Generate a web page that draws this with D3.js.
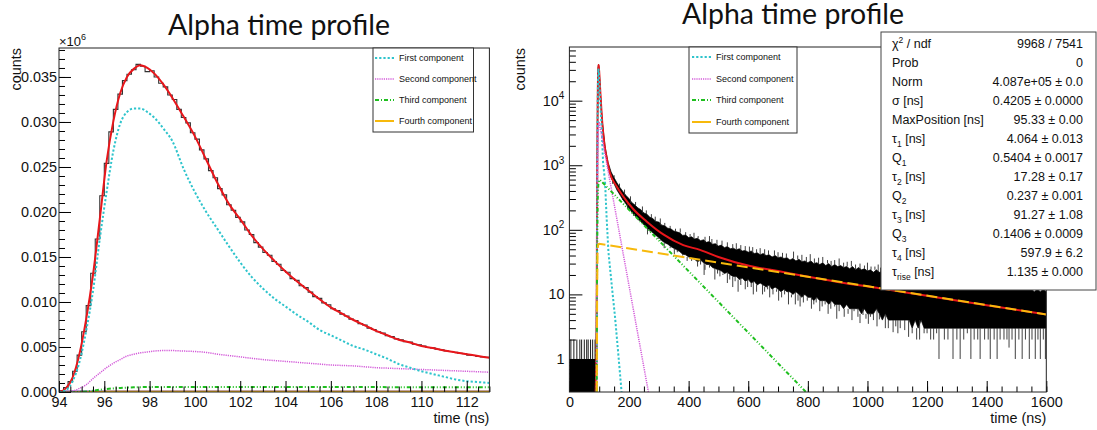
<!DOCTYPE html>
<html><head><meta charset="utf-8">
<script src="https://cdn.jsdelivr.net/npm/d3@7/dist/d3.min.js"></script>
<style>
html,body{margin:0;padding:0;background:#fff;}
svg{display:block;}
text{font-family:"Liberation Sans",Arial,Helvetica,sans-serif;fill:#111;}
</style></head>
<body>
<svg id="chart" width="1097" height="430"></svg>
<script>
// ================= DATA =================
const titleText = "Alpha time profile";
const xTitle = "time (ns)";
const yTitle = "counts";
const componentNames = ["First component", "Second component", "Third component", "Fourth component"];

// ---- left panel: linear zoom on the peak ----
const leftXRange = [94, 113];
const leftYRange = [0, 38220];
const leftXTicks = [94, 96, 98, 100, 102, 104, 106, 108, 110, 112];
const leftYTicks = [0, 5000, 10000, 15000, 20000, 25000, 30000, 35000];
const leftYExponent = "6";
const leftBinStart = 94.0;
const leftBinWidth = 0.2;
const leftCounts = [150,500,1150,2300,4100,6700,9600,13200,17000,21800,25400,28900,31400,33100,34600,35300,35800,36400,36200,35600,
  35700,35000,34300,33900,33000,32500,31400,30500,29900,28800,28100,26900,25900,24600,23800,22600,21900,20800,20200,19400,
  18900,18000,17500,16600,16100,15500,15200,14500,14200,13500,13300,12600,12400,11800,11600,11100,10600,10400,9900,9700,
  9250,9050,8650,8450,8100,7950,7600,7450,7100,6950,6700,6550,6250,6150,5900,5800,5600,5550,5300,5250,
  5100,4950,4900,4750,4700,4550,4500,4400,4300,4250,4100,4050,3950,3900,3850];
const leftFitT = [94.0,94.3,94.6,94.9,95.2,95.5,95.8,96.1,96.4,96.7,97.0,97.3,97.6,97.9,98.2,98.6,99.0,99.5,100,100.5,
  101,101.5,102,102.5,103,103.5,104,104.5,105,105.5,106,106.5,107,107.5,108,108.5,109,109.5,110,110.5,111,111.5,112,112.5,113];
const leftTotal = [0,400,1600,4200,8100,13000,19200,25600,30100,33200,35000,35900,36300,36000,35400,34200,32700,30600,28400,25800,
  23200,20900,19200,17400,15900,14600,13400,12300,11300,10300,9400,8700,8000,7400,6800,6300,5800,5500,5100,4900,4600,4400,4200,4000,3800];
const leftFirst = [0,200,1200,3300,6800,11200,17000,22200,26800,29800,31100,31500,31500,31100,30500,29300,27900,24800,22200,20000,
  18100,16200,14400,12800,11500,10400,9500,8600,7800,6900,6300,5700,5100,4700,4200,3700,3100,2700,2300,2000,1700,1400,1200,1100,1000];
const leftSecond = [0,0,100,400,800,1500,2100,2700,3200,3600,4000,4200,4350,4450,4550,4600,4600,4550,4500,4400,
  4200,4050,3900,3750,3600,3500,3400,3300,3200,3100,3000,2950,2900,2800,2700,2650,2600,2550,2500,2450,2400,2350,2300,2250,2200];
const leftThird = [0,0,0,20,60,150,250,330,400,450,490,520,540,550,555,560,560,565,565,565,
  565,565,560,560,560,560,555,555,555,550,550,550,545,545,545,540,540,540,535,535,535,530,530,530,525];
const leftFourth = [0,0,0,5,15,25,35,42,48,52,55,57,58,59,60,60,60,60,60,60,
  60,60,60,60,60,60,60,60,60,60,60,60,60,60,60,60,60,60,59,59,59,59,59,59,59];

// ---- right panel: full range, log scale ----
const rightXRange = [0, 1600];
const rightYRange = [0.308, 67800];
const rightXTicks = [0, 200, 400, 600, 800, 1000, 1200, 1400, 1600];
const rightYTicks = [1, 10, 100, 1000, 10000];
const rightFlatRange = [0, 88];
const rightFlatCount = 1;
const rightFlatSpikeT = [5, 15, 25, 35, 41, 50, 58, 63, 71, 78, 86];
const rightFlatSpikeCount = 2;
const bandT = [88,90,92,93,94,95,96,97,98,99,100,103,106,110,
  120,130,140,150,160,170,180,190,200,210,220,230,240,250,260,270,280,290,300,310,320,330,340,350,360,370,380,390,400,
  410,420,430,440,450,460,470,480,490,500,510,520,530,540,550,560,570,580,590,600,610,620,630,640,650,660,670,680,690,700,
  710,720,730,740,750,760,770,780,790,800,810,820,830,840,850,860,870,880,890,900,910,920,930,940,950,960,970,980,990,1000,
  1010,1020,1030,1040,1050,1060,1070,1080,1090,1100,1110,1120,1130,1140,1150,1160,1170,1180,1190,1200,
  1210,1220,1230,1240,1250,1260,1270,1280,1290,1300,1310,1320,1330,1340,1350,1360,1370,1380,1390,1400,
  1410,1420,1430,1440,1450,1460,1470,1480,1490,1500,1510,1520,1530,1540,1550,1560,1570,1580,1590,1600];
const bandHi = [1,3,60,600,4000,12000,27000,36000,36500,33000,29000,17000,9200,4950,
  1920,1100,785,640,530,450,390,340,305,262,242,218,205,182,175,156,150,134,132,118,116,106,104,96,93,90,82,83,76,
  78,72,74,68,70,64,66,60,61,56,58,53,55,51,52,49,51,47,48,45,47,43,44,41,43,40,41,38,40,37,
  38,36,37,34,36,33,35,32,33,31,33,30,31,29,31,28,30,27,29,27,28,26,27,25,27,24,26,24,25,23,
  24,22,24,22,23,21,22,21,22,20,21,20,21,19,20,19,20,18,19,18,
  19,17,18,17,18,16,17,16,17,16,15,16,15,16,14,15,14,15,14,14,
  13,14,13,14,13,13,12,13,12,13,12,12,13,12,12,11,12,11,12,11];
const bandLo = [0.31,0.31,2,60,1500,8000,22000,33000,34500,31000,27000,15500,8400,4500,
  1700,930,640,515,410,345,290,252,212,186,165,148,133,120,108,98,90,82,76,68,63,60,55,52,49,46,42,41,38,
  37,35,32,34,31,29,29,26,25,24,23,21,22,20,19,19,17,18,16,17,15,16,14,15,14,13,14,12,13,12,
  11,12,11,11,10,11,10,9,10,9,9,8,9,8,8,8,7,8,7,7,7,6,7,6,6,6,6,5,6,5,
  5,5,6,5,4,5,4,4,4,4,4,4,4,4,3,4,3,4,3,3,
  3,3,3,3,3,3,3,3,3,3,3,3,3,3,3,3,3,3,3,3,
  3,3,3,3,3,3,3,3,3,3,3,3,3,3,3,3,3,3,3,3];
const upSpikes = [[150,700],[168,520],[185,420],[205,330],[222,270],[245,230],[258,200],[275,175],[288,160],[305,150],
  [320,128],[338,115],[356,104],[372,105],[390,92],[405,86],[418,90],[432,80],[455,78],[470,80],[478,72],[495,70],
  [512,68],[530,64],[548,60],[560,62],[575,58],[590,56],[604,55],[615,54],[628,50],[640,52],[655,50],[668,48],[688,48],
  [700,45],[715,44],[728,43],[752,46],[766,40],[780,41],[795,38],[808,42],[822,36],[836,37],[850,38],[866,34],[878,33],
  [890,34],[905,36],[920,31],[932,32],[946,33],[960,29],[975,30],[990,28],[1000,31],[1012,27],[1025,27],[1036,29],[1044,26]];
const downSpikes = [[145,580],[162,420],[178,300],[195,250],[215,175],[232,140],[248,122],[262,85],[270,94],[285,86],
  [298,72],[305,70],[318,52],[338,52],[352,42],[362,45],[380,40],[395,33],[410,33],[430,27],[440,29],[452,20],[455,24],
  [470,26],[488,17],[497,21],[505,19],[515,20],[530,15],[538,17],[548,13],[556,16],[566,11],[575,14],[590,12],[598,13],
  [610,13],[617,10],[628,11],[648,10],[655,11],[665,12],[672,9],[683,10],[695,11],[702,8],[712,9],[722,10],[735,7],
  [745,9],[758,7],[767,8],[774,6.5],[785,7.5],[798,8],[812,6],[820,7],[828,7.5],[840,5.5],[848,6.5],[858,7],[868,5],
  [877,6],[890,6.5],[897,4.2],[905,5.5],[915,6],[922,4.5],[935,5],[948,4],[955,5.5],[968,4.5],[975,3.6],[985,4.8],
  [995,4.2],[1003,3.5],[1010,4.5],[1020,4],[1032,3.2],[1040,4.1],[1060,3],[1070,3],[1086,2.6],[1095,3.2],[1102,2.5],
  [1110,3],[1125,2.8],[1138,2.2],[1150,2.5],[1165,2],[1175,2],[1190,2.5],[1200,2.5],[1212,2],[1222,2],[1232,2.5],
  [1240,1],[1258,2],[1270,2],[1287,1],[1300,2],[1311,1],[1323,2],[1335,2.5],[1347,1],[1358,2],[1370,2],[1378,1],
  [1393,2],[1405,2],[1412,1],[1425,2],[1435,1],[1445,2],[1458,2],[1468,2],[1475,1.5],[1485,2],[1496,1],[1508,2],
  [1519,1],[1530,2],[1543,1],[1552,2],[1563,1],[1572,2],[1580,1],[1590,2],[1597,1]];
const rightTotalT = [88,91,92.5,94,95,96,97,98,100,102.7,105,108.4,113.8,118,125,136,158.7,181,214,259,315,382,438,500,606,700,774,900,1042,1200,1400,1600];
const rightTotal  = [0.31,2,100,3000,10000,24000,35700,35000,28000,16500,11000,6000,3000,2000,1300,760,470,327,210,135,85,58,49,38,27.5,23,19.8,15.6,12.4,9.5,6.8,4.9];
const rightFirstT = [91.5,93,94.5,96,97.3,99,101,104,108,113,119.5,125,131,142,153,164,175];
const rightFirst  = [0.31,300,6000,22000,31500,27000,18000,8800,4000,1100,560,150,45,14,4.5,1.2,0.31];
const rightSecondT = [91.5,93,95,97,99,100.5,265];
const rightSecond  = [0.31,150,1500,3500,4450,4500,0.31];
const rightThirdT = [91.5,93,95,97,100,102.7,793];
const rightThird  = [0.31,40,300,500,590,593,0.31];
const rightFourthT = [92,93,94.5,97,100,1600];
const rightFourth  = [0.31,10,50,60,61,4.9];

const statNames = ["chi2","Prob","Norm","sigma","MaxPosition","tau1","Q1","tau2","Q2","tau3","Q3","tau4","taurise"];
const statValues = ["9968 / 7541","0","4.087e+05 \u00b1 0.0","0.4205 \u00b1 0.0000","95.33 \u00b1 0.00","4.064 \u00b1 0.013",
  "0.5404 \u00b1 0.0017","17.28 \u00b1 0.17","0.237 \u00b1 0.001","91.27 \u00b1 1.08","0.1406 \u00b1 0.0009","597.9 \u00b1 6.2","1.135 \u00b1 0.000"];

// ================= STYLE =================
const C = {red:"#e8161b", cyan:"#2ec4cc", magenta:"#d35ad9", green:"#1fbf1f", yellow:"#f7b90c", purple:"#6b3fa0"};
const compStyle = [
  {color:C.cyan, dash:"2.2,2", w:2},
  {color:C.magenta, dash:"1.2,1", w:1.5},
  {color:C.green, dash:"4,2,1,2,1,2", w:2},
  {color:C.yellow, dash:"11,5", w:2}
];
const legendDash = ["2.2,2","1.2,1","4,2,1,2","none"];
const FS = 14.4;

const svg = d3.select("#chart");

// ================= LEFT PANEL =================
const L = {x0:59, x1:489.4, y0:48, y1:392};
const lx = d3.scaleLinear().domain(leftXRange).range([L.x0, L.x1]);
const ly = d3.scaleLinear().domain(leftYRange).range([L.y1, L.y0]);

svg.append("clipPath").attr("id","clipL").append("rect")
  .attr("x",L.x0).attr("y",L.y0).attr("width",L.x1-L.x0).attr("height",L.y1-L.y0);
svg.append("clipPath").attr("id","clipR");

const gL = svg.append("g").attr("clip-path","url(#clipL)");

// histogram
const histPts = leftCounts.map((c,i)=>[leftBinStart+i*leftBinWidth, c]);
histPts.push([leftBinStart+leftCounts.length*leftBinWidth, leftCounts[leftCounts.length-1]]);
gL.append("path").attr("d", d3.line().x(d=>lx(d[0])).y(d=>ly(d[1])).curve(d3.curveStepAfter)(histPts))
  .attr("fill","none").attr("stroke","#333").attr("stroke-width",1.1);

// baseline line (drawn at zero)
gL.append("line").attr("x1",lx(leftXRange[0])).attr("x2",lx(leftXRange[1])).attr("y1",ly(0)-0.5).attr("y2",ly(0)-0.5)
  .attr("stroke",C.purple).attr("stroke-width",2.2);

const lineL = d3.line().x(d=>lx(d[0])).y(d=>ly(d[1])).curve(d3.curveMonotoneX);
const leftComps = [leftFirst, leftSecond, leftThird, leftFourth];
gL.append("path").attr("d", lineL(leftFitT.map((t,i)=>[t,leftTotal[i]])))
  .attr("fill","none").attr("stroke",C.red).attr("stroke-width",2);
[3,2,1,0].forEach(k=>{
  const s = compStyle[k];
  gL.append("path").attr("d", lineL(leftFitT.map((t,i)=>[t,leftComps[k][i]])))
    .attr("fill","none").attr("stroke",s.color).attr("stroke-width",k===3?1.5:s.w)
    .attr("stroke-dasharray",k===3?"none":s.dash);
});

// axes left
function axisTicks(g, axis, len){
  g.call(axis.tickSize(-len));
  g.select(".domain").remove();
  g.selectAll("line").attr("stroke","#000").attr("stroke-width",1);
}
const gLx = svg.append("g").attr("transform",`translate(0,${L.y1})`);
axisTicks(gLx, d3.axisBottom(lx).tickValues(d3.range(94,113.01,0.5)).tickFormat(""), 5.5);
const gLxM = svg.append("g").attr("transform",`translate(0,${L.y1})`);
axisTicks(gLxM, d3.axisBottom(lx).tickValues(leftXTicks).tickFormat(d=>d).tickPadding(5), 11);
gLxM.selectAll("text").attr("font-size",FS).attr("font-family","Liberation Sans, Arial, sans-serif").attr("fill","#111");

const gLy = svg.append("g").attr("transform",`translate(${L.x0},0)`);
axisTicks(gLy, d3.axisLeft(ly).tickValues(d3.range(0,38001,1000)).tickFormat(""), 6);
const gLyM = svg.append("g").attr("transform",`translate(${L.x0},0)`);
axisTicks(gLyM, d3.axisLeft(ly).tickValues(leftYTicks).tickFormat(d=>(d/1e6).toFixed(3)).tickPadding(2), 12);
gLyM.selectAll("text").attr("font-size",FS).attr("font-family","Liberation Sans, Arial, sans-serif").attr("fill","#111");

svg.append("rect").attr("x",L.x0).attr("y",L.y0).attr("width",L.x1-L.x0).attr("height",L.y1-L.y0)
  .attr("fill","none").attr("stroke","#222").attr("stroke-width",1);

// x10^6
const ex = svg.append("text").attr("x",L.x0).attr("y",46).attr("font-size",13).attr("fill","#444");
ex.append("tspan").text("\u00d710");
ex.append("tspan").attr("dy",-6).attr("font-size",9).text(leftYExponent);

svg.append("text").attr("x",L.x1).attr("y",422.5).attr("text-anchor","end").attr("font-size",FS).text(xTitle);
svg.append("text").attr("transform",`translate(20.5,${L.y0}) rotate(-90)`).attr("text-anchor","end").attr("font-size",FS).text(yTitle);

function legend(x, y, w, h, sx, rows){
  svg.append("rect").attr("x",x).attr("y",y).attr("width",w).attr("height",h).attr("fill","#fff").attr("stroke","#333").attr("stroke-width",1);
  componentNames.forEach((n,i)=>{
    const cy = rows[i];
    svg.append("line").attr("x1",sx).attr("x2",sx+19).attr("y1",cy).attr("y2",cy)
      .attr("stroke",compStyle[i].color).attr("stroke-width",compStyle[i].w)
      .attr("stroke-dasharray",legendDash[i]);
    svg.append("text").attr("x",sx+24).attr("y",cy+3.2).attr("font-size",9).attr("fill","#222").text(n);
  });
}
legend(373, 48, 100.5, 84, 375, [58,79,100,121]);

// ================= RIGHT PANEL =================
const R = {x0:569.4, x1:1046.3, y0:47, y1:392};
const rx = d3.scaleLinear().domain(rightXRange).range([R.x0, R.x1]);
const ry = d3.scaleLog().domain(rightYRange).range([R.y1, R.y0]);
d3.select("#clipR").append("rect").attr("x",R.x0).attr("y",R.y0).attr("width",R.x1-R.x0).attr("height",R.y1-R.y0);
const gR = svg.append("g").attr("clip-path","url(#clipR)");

gR.append("rect").attr("x",rx(rightFlatRange[0])).attr("width",rx(rightFlatRange[1])-rx(rightFlatRange[0]))
  .attr("y",ry(rightFlatCount)).attr("height",ry(rightYRange[0])-ry(rightFlatCount)).attr("fill","#000");
rightFlatSpikeT.forEach(t=>{
  gR.append("line").attr("x1",rx(t)).attr("x2",rx(t)).attr("y1",ry(rightFlatCount)).attr("y2",ry(rightFlatSpikeCount))
    .attr("stroke","#000").attr("stroke-width",0.9);
});
const area = d3.area().x((d,i)=>rx(bandT[i])).y0((d,i)=>ry(bandLo[i])).y1((d,i)=>ry(bandHi[i]));
gR.append("path").attr("d", area(bandT)).attr("fill","#000").attr("stroke","#000").attr("stroke-width",0.7);
function nearestIdx(t){ return d3.bisectCenter(bandT, t); }
downSpikes.forEach(([t,v])=>{
  const i = nearestIdx(t);
  gR.append("line").attr("x1",rx(t)).attr("x2",rx(t)).attr("y1",ry(bandLo[i])).attr("y2",ry(v))
    .attr("stroke","#2a2a2a").attr("stroke-width",0.9);
});
upSpikes.forEach(([t,v])=>{
  const i = nearestIdx(t);
  gR.append("line").attr("x1",rx(t)).attr("x2",rx(t)).attr("y1",ry(bandHi[i])).attr("y2",ry(v))
    .attr("stroke","#2a2a2a").attr("stroke-width",0.9);
});

const lineR = d3.line().x(d=>rx(d[0])).y(d=>ry(d[1]));
gR.append("path").attr("d", d3.line().x(d=>rx(d[0])).y(d=>ry(d[1])).curve(d3.curveMonotoneX)(rightTotalT.map((t,i)=>[t,rightTotal[i]])))
  .attr("fill","none").attr("stroke",C.red).attr("stroke-width",2);
const rightComps = [[rightFirstT,rightFirst],[rightSecondT,rightSecond],[rightThirdT,rightThird],[rightFourthT,rightFourth]];
rightComps.forEach(([T,V],k)=>{
  const s = compStyle[k];
  gR.append("path").attr("d", lineR(T.map((t,i)=>[t,V[i]])))
    .attr("fill","none").attr("stroke",s.color).attr("stroke-width",s.w).attr("stroke-dasharray",s.dash);
});

const gRx = svg.append("g").attr("transform",`translate(0,${R.y1})`);
axisTicks(gRx, d3.axisBottom(rx).tickValues(d3.range(0,1601,50)).tickFormat(""), 5.5);
const gRxM = svg.append("g").attr("transform",`translate(0,${R.y1})`);
axisTicks(gRxM, d3.axisBottom(rx).tickValues(rightXTicks).tickFormat(d=>d).tickPadding(5), 11);
gRxM.selectAll("text").attr("font-size",FS).attr("font-family","Liberation Sans, Arial, sans-serif").attr("fill","#111");

const minorLog = [];
[-1,0,1,2,3,4].forEach(e=>{ for(let m=2;m<=9;m++){ const v=m*Math.pow(10,e); if(v>rightYRange[0]&&v<rightYRange[1]) minorLog.push(v);} });
const gRy = svg.append("g").attr("transform",`translate(${R.x0},0)`);
axisTicks(gRy, d3.axisLeft(ry).tickValues(minorLog).tickFormat(""), 6.5);
const gRyM = svg.append("g").attr("transform",`translate(${R.x0},0)`);
axisTicks(gRyM, d3.axisLeft(ry).tickValues(rightYTicks).tickFormat(""), 13);
rightYTicks.forEach(v=>{
  const e = Math.round(Math.log10(v));
  const t = svg.append("text").attr("x",R.x0-5).attr("y",ry(v)+5).attr("text-anchor","end").attr("font-size",FS);
  if(e<2){ t.text(String(v)); }
  else { t.append("tspan").text("10"); t.append("tspan").attr("dy",-6.5).attr("font-size",10).text(String(e)); }
});
svg.append("rect").attr("x",R.x0).attr("y",R.y0).attr("width",R.x1-R.x0).attr("height",R.y1-R.y0)
  .attr("fill","none").attr("stroke","#222").attr("stroke-width",1);
svg.append("text").attr("x",R.x1).attr("y",422.5).attr("text-anchor","end").attr("font-size",FS).text(xTitle);
svg.append("text").attr("transform",`translate(525,${R.y0+1}) rotate(-90)`).attr("text-anchor","end").attr("font-size",FS).text(yTitle);

legend(689, 47, 108, 86, 692, [57,79,100,122]);

// stats box
svg.append("rect").attr("x",881).attr("y",32).attr("width",215).attr("height",258).attr("fill","#fff").attr("stroke","#444").attr("stroke-width",1);
const SF = 12.5;
function sub(t, main, s, rest){
  t.append("tspan").text(main);
  t.append("tspan").attr("dy",3.5).attr("font-size",8.5).text(s);
  t.append("tspan").attr("dy",-3.5).text(rest);
}
statNames.forEach((n,i)=>{
  const yb = 48.2 + 19*i;
  const t = svg.append("text").attr("x",892).attr("y",yb).attr("font-size",SF);
  if(n==="chi2"){ t.append("tspan").text("\u03c7"); t.append("tspan").attr("dy",-5).attr("font-size",8.5).text("2"); t.append("tspan").attr("dy",5).text(" / ndf"); }
  else if(n==="sigma"){ t.text("\u03c3 [ns]"); }
  else if(n==="MaxPosition"){ t.text("MaxPosition [ns]"); }
  else if(n==="Prob"||n==="Norm"){ t.text(n); }
  else if(n.startsWith("tau")){ sub(t,"\u03c4", n.slice(3), " [ns]"); }
  else if(n.startsWith("Q")){ sub(t,"Q", n.slice(1), ""); }
  svg.append("text").attr("x",1083).attr("y",yb).attr("text-anchor","end").attr("font-size",SF).text(statValues[i]);
});

// ================= TITLES =================
function title(cx, yb){
  const t = svg.append("text").attr("x",cx).attr("y",yb).attr("text-anchor","middle")
    .style("font-family","Lato, 'Open Sans', sans-serif").attr("font-size",26).attr("fill","#111").text(titleText);
  const w = t.node().getComputedTextLength();
  t.attr("font-size", 26*222/w);
}
title(279, 35);
title(793, 23.5);
</script>
</body></html>
